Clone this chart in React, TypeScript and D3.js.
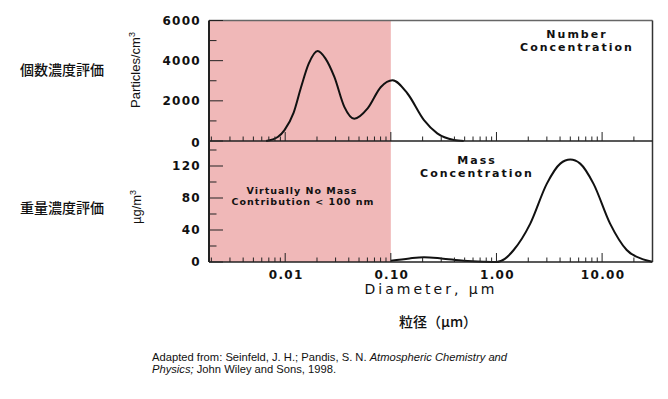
import React from "react";
import * as d3 from "d3";

// number concentration (particles/cm3) vs diameter (um)
const numDiam = [0.0066, 0.0085, 0.00985, 0.012, 0.01415, 0.0167, 0.0203, 0.024, 0.0292, 0.0363, 0.0451, 0.0603, 0.0805, 0.1038, 0.1437, 0.206, 0.275, 0.395, 0.49];
const numVals = [0, 200, 545, 1400, 2690, 3850, 4480, 4115, 3190, 1700, 1105, 1620, 2690, 3025, 2365, 1040, 380, 50, 0];

// mass concentration (ug/m3) vs diameter (um)
const massDiam = [0.1, 0.15, 0.206, 0.3, 0.49, 0.75, 1.0, 1.2, 1.456, 2.09, 3.0, 4.02, 5.0, 6.2, 8.28, 11.9, 17.1, 24.5, 29.8];
const massVals = [1.5, 4.5, 5.9, 4.5, 1.6, 0.4, 0, 4, 15, 48, 98, 123, 128, 123, 98, 48, 15, 3.3, 0.4];

const xTicksMajor = [0.01, 0.1, 1, 10];
const xTickLabels = ["0.01", "0.10", "1.00", "10.00"];
const numTicks = [0, 2000, 4000, 6000];
const numLabels = ["0", "2000", "4000", "6000"];
const massTicks = [0, 40, 80, 120];
const massLabels = ["0", "40", "80", "120"];

const bold = "DejaVu Sans, sans-serif";
const arial = "Liberation Sans, Arial, sans-serif";
const jp = "Noto Sans CJK JP, sans-serif";

export default function App() {
  const left = 209, right = 652.5, top = 20.5, mid = 141, bottom = 262;
  const x = d3.scaleLog().domain([0.0019, 30]).range([left, right]);
  const yNum = d3.scaleLinear().domain([0, 6000]).range([mid, top]);
  const yMass = d3.scaleLinear().domain([0, 150]).range([bottom, mid + 1]);

  const numLine = d3.line<number>()
    .x((d, i) => x(numDiam[i]))
    .y(d => yNum(d))
    .curve(d3.curveMonotoneX);
  const massLine = d3.line<number>()
    .x((d, i) => x(massDiam[i]))
    .y(d => yMass(d))
    .curve(d3.curveMonotoneX);

  // minor log ticks 2..9 of each decade
  const minor: number[] = [];
  for (let e = -3; e <= 1; e++) {
    for (let m = 2; m <= 9; m++) {
      const v = m * Math.pow(10, e);
      if (v > 0.0019 && v < 30) minor.push(v);
    }
  }

  const xTicks = (base: number) => (
    <g stroke="#222" strokeWidth={1}>
      {minor.map(v => <line key={"m" + v} x1={x(v)} x2={x(v)} y1={base} y2={base - 4.5} />)}
      {xTicksMajor.map(v => <line key={"M" + v} x1={x(v)} x2={x(v)} y1={base} y2={base - 9} />)}
    </g>
  );

  const numMinor = d3.range(1000, 6000, 2000);
  const massMinor = d3.range(20, 150, 40);

  return (
    <svg width={668} height={399} style={{ position: "absolute", left: 0, top: 0, background: "#fff" }}>
      <rect x={left} y={top} width={x(0.1) - left} height={bottom - top} fill="#f0b8b8" />

      <path d={numLine(numVals) || ""} fill="none" stroke="#111" strokeWidth={2} />
      <path d={massLine(massVals) || ""} fill="none" stroke="#111" strokeWidth={2} />

      {/* frame */}
      <line x1={left} x2={right} y1={top} y2={top} stroke="#666" strokeWidth={1.5} />
      <line x1={right} x2={right} y1={top} y2={bottom} stroke="#333" strokeWidth={1.5} />
      <line x1={left} x2={right} y1={mid} y2={mid} stroke="#222" strokeWidth={1.5} />
      <line x1={left} x2={right} y1={bottom} y2={bottom} stroke="#222" strokeWidth={1.5} />
      <line x1={left} x2={left} y1={top} y2={bottom} stroke="#222" strokeWidth={2} />

      {xTicks(mid)}
      {xTicks(bottom)}

      <g stroke="#222" strokeWidth={1}>
        {numTicks.map(v => <line key={"nt" + v} x1={left} x2={left + 14} y1={yNum(v)} y2={yNum(v)} />)}
        {numMinor.map(v => <line key={"nm" + v} x1={left} x2={left + 7.5} y1={yNum(v)} y2={yNum(v)} />)}
        {massTicks.map(v => <line key={"mt" + v} x1={left} x2={left + 14} y1={yMass(v)} y2={yMass(v)} />)}
        {massMinor.map(v => <line key={"mm" + v} x1={left} x2={left + 7.5} y1={yMass(v)} y2={yMass(v)} />)}
      </g>

      <g fontFamily={bold} fontWeight="bold" fontSize={12} fill="#111" letterSpacing={1.3} textAnchor="end">
        {numTicks.map((v, i) => (
          <text key={"nl" + v} x={201} y={yNum(v) + (v === 0 ? 5.5 : 4.3)}>{numLabels[i]}</text>
        ))}
        {massTicks.map((v, i) => (
          <text key={"ml" + v} x={201} y={yMass(v) + 4.3}>{massLabels[i]}</text>
        ))}
      </g>
      <g fontFamily={bold} fontWeight="bold" fontSize={12} fill="#111" letterSpacing={1.3} textAnchor="middle">
        {xTicksMajor.map((v, i) => (
          <text key={"xl" + v} x={x(v) + 1} y={279}>{xTickLabels[i]}</text>
        ))}
      </g>

      <text x={431} y={294} textAnchor="middle" fontFamily={bold} fontSize={14} fill="#111" letterSpacing={3}>Diameter,  µm</text>

      <g fontFamily={bold} fontWeight="bold" fontSize={11} fill="#111" letterSpacing={2} textAnchor="middle">
        <text x={577} y={37.7}>Number</text>
        <text x={577} y={51}>Concentration</text>
        <text x={477} y={164}>Mass</text>
        <text x={477} y={176.7}>Concentration</text>
      </g>
      <g fontFamily={bold} fontWeight="bold" fontSize={9.5} fill="#111" letterSpacing={1} textAnchor="middle">
        <text x={302} y={194.3}>Virtually No Mass</text>
        <text x={303} y={205}>Contribution &lt; 100 nm</text>
      </g>

      <text transform="translate(140,70) rotate(-90)" textAnchor="middle" fontFamily={arial} fontSize={13} fill="#111">
        Particles/cm<tspan dy={-5} fontSize={9}>3</tspan>
      </text>
      <text transform="translate(141,207) rotate(-90)" textAnchor="middle" fontFamily={arial} fontSize={13} fill="#111">
        µg/m<tspan dy={-5} fontSize={9}>3</tspan>
      </text>

      <g fontFamily={jp} fontSize={14} fontWeight={500} fill="#111">
        <text x={62} y={75} textAnchor="middle">個数濃度評価</text>
        <text x={62} y={213} textAnchor="middle">重量濃度評価</text>
        <text x={438} y={327} textAnchor="middle">粒径（µm）</text>
      </g>

      <g fontFamily={arial} fontSize={11.2} fill="#111">
        <text x={152} y={361}>Adapted from: Seinfeld, J. H.; Pandis, S. N. <tspan fontStyle="italic">Atmospheric Chemistry and</tspan></text>
        <text x={152} y={373.3}><tspan fontStyle="italic">Physics;</tspan> John Wiley and Sons, 1998.</text>
      </g>
    </svg>
  );
}
